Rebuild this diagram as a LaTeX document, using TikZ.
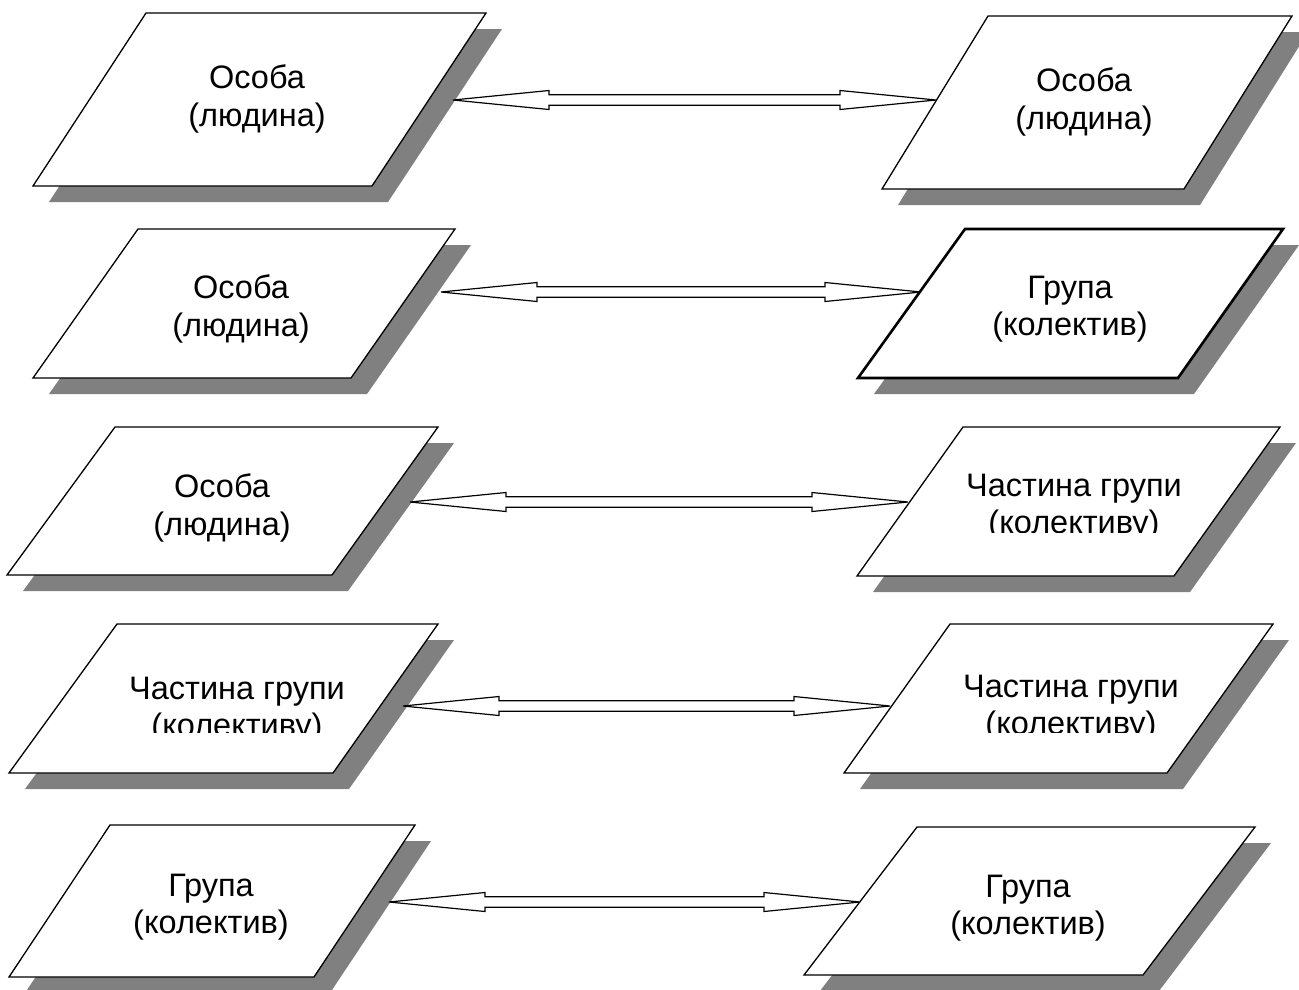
\documentclass[tikz,border=0pt]{standalone}
\usepackage{fontspec}
\setmainfont{Liberation Sans}
\usetikzlibrary{calc}
\definecolor{shadowgray}{HTML}{808080}
\tikzset{
  pgbox/.style={draw=black, fill=white, line width=1.3pt, line join=miter},
  pgboxbold/.style={pgbox, line width=2.6pt},
  pgshadow/.style={fill=shadowgray, draw=none},
  pglabel/.style={align=center, inner sep=0pt, font=\fontsize{32.5}{37.5}\selectfont},
  blockarrow/.style={draw=black, fill=white, line width=1.2pt, line join=miter}
}
% parallelogram with drop shadow: #1 style, #2 top y, #3 bottom y,
% #4 top-left x, #5 top-right x, #6 bottom-left x, #7 bottom-right x
\newcommand\pgshape[7]{%
  \fill[pgshadow] (#4+16,#2+16) -- (#5+16,#2+16) -- (#7+16,#3+16) -- (#6+16,#3+16) -- cycle;
  \draw[#1] (#4,#2) -- (#5,#2) -- (#7,#3) -- (#6,#3) -- cycle;
}
% double-headed hollow block arrow between two named points
\newcommand\twowayarrow[2]{%
  \draw[blockarrow] (#1) -- ($(#1)+(96,-9.5)$) -- ($(#1)+(96,-5.3)$)
    -- ($(#2)+(-96,-5.3)$) -- ($(#2)+(-96,-9.5)$) -- (#2)
    -- ($(#2)+(-96,9.5)$) -- ($(#2)+(-96,5.3)$)
    -- ($(#1)+(96,5.3)$) -- ($(#1)+(96,9.5)$) -- cycle;
}
\begin{document}
\begin{tikzpicture}[x=1pt, y=-1pt]
\useasboundingbox (0,0) rectangle (1299,989);

% boxes
\pgshape{pgbox}{13}{186}{146}{486}{33}{372}
\pgshape{pgbox}{16}{189}{988}{1292}{882}{1184}
\pgshape{pgbox}{229}{378}{138}{455}{33}{351}
\pgshape{pgboxbold}{229}{378}{965}{1283}{858}{1178}
\pgshape{pgbox}{427}{575}{115}{438}{7}{332}
\pgshape{pgbox}{427}{576}{963}{1280}{857}{1174}
\pgshape{pgbox}{624}{773}{117}{438}{9}{333}
\pgshape{pgbox}{624}{773}{950}{1273}{844}{1167}
\pgshape{pgbox}{825}{977}{110}{415}{9}{314}
\pgshape{pgbox}{827}{975}{917}{1255}{804}{1143}

% arrow end points
\coordinate (a1) at (453,100);  \coordinate (b1) at (936,100);
\coordinate (a2) at (441,292);  \coordinate (b2) at (921,292);
\coordinate (a3) at (410,502);  \coordinate (b3) at (908,502);
\coordinate (a4) at (403,706);  \coordinate (b4) at (890,706);
\coordinate (a5) at (389,902);  \coordinate (b5) at (860,902);

\twowayarrow{a1}{b1}
\twowayarrow{a2}{b2}
\twowayarrow{a3}{b3}
\twowayarrow{a4}{b4}
\twowayarrow{a5}{b5}

% labels
\node[pglabel] (l1) at (257,99)  {Особа\\(людина)};
\node[pglabel] (r1) at (1084,102) {Особа\\(людина)};
\node[pglabel] (l2) at (241,309) {Особа\\(людина)};
\node[pglabel] (r2) at (1070,309) {Група\\(колектив)};
\node[pglabel] (l3) at (222,508) {Особа\\(людина)};
\begin{scope}
  \clip (820,400) rectangle (1299,532);
  \node[pglabel] (r3) at (1074,507) {Частина групи\\(колективу)};
\end{scope}
\begin{scope}
  \clip (0,600) rectangle (480,732);
  \node[pglabel] (l4) at (237,710) {Частина групи\\(колективу)};
\end{scope}
\begin{scope}
  \clip (820,600) rectangle (1299,732);
  \node[pglabel] (r4) at (1071,708) {Частина групи\\(колективу)};
\end{scope}
\node[pglabel] (l5) at (211,907) {Група\\(колектив)};
\node[pglabel] (r5) at (1028,908) {Група\\(колектив)};
\end{tikzpicture}
\end{document}
